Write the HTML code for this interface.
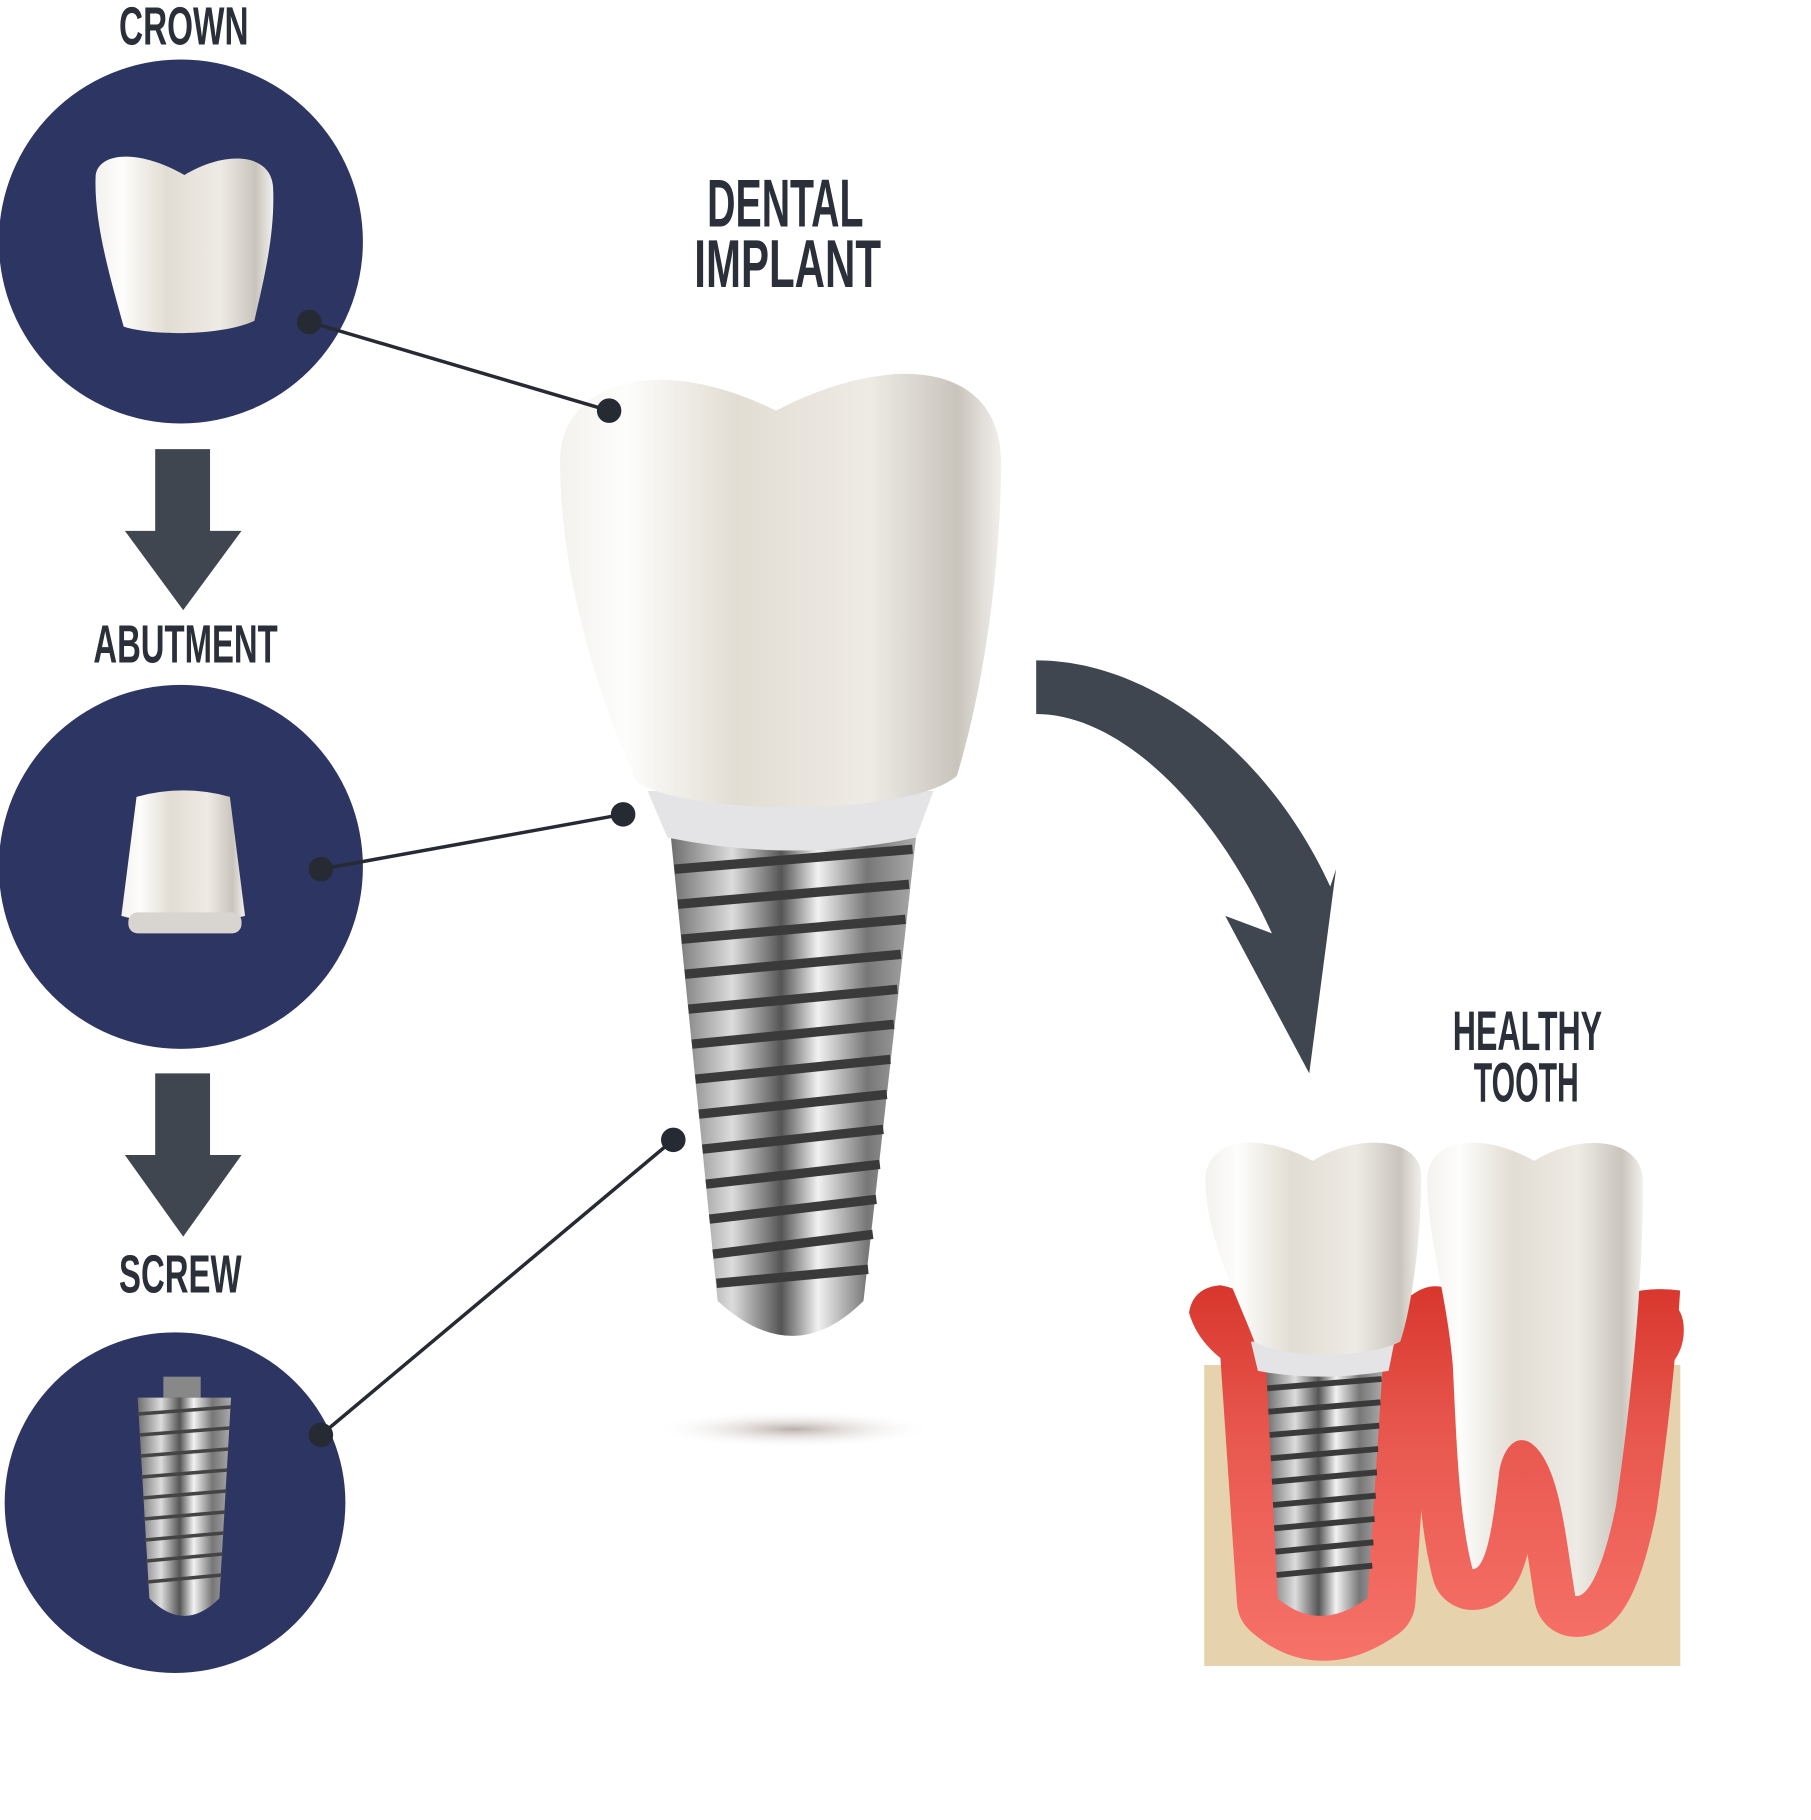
<!DOCTYPE html>
<html><head><meta charset="utf-8"><style>html,body{margin:0;padding:0;background:#fff}svg{display:block}</style></head>
<body>
<svg width="1811" height="1820" viewBox="0 0 1552 1560" preserveAspectRatio="none" xmlns="http://www.w3.org/2000/svg">
<defs>
<linearGradient id="tooth" x1="0" x2="1" y1="0" y2="0">
<stop offset="0" stop-color="#f4f2ee"/><stop offset="0.15" stop-color="#fdfdfc"/><stop offset="0.4" stop-color="#e2ddd3"/><stop offset="0.7" stop-color="#eeebe5"/><stop offset="0.9" stop-color="#c9c5bd"/><stop offset="1" stop-color="#f2f0ec"/>
</linearGradient>
<linearGradient id="metal" x1="0" x2="1" y1="0" y2="0">
<stop offset="0" stop-color="#6e6e6e"/><stop offset="0.25" stop-color="#dcdcdc"/><stop offset="0.45" stop-color="#555"/><stop offset="0.6" stop-color="#f2f2f2"/><stop offset="0.8" stop-color="#777"/><stop offset="1" stop-color="#aaa"/>
</linearGradient>
<linearGradient id="gum" gradientUnits="userSpaceOnUse" x1="0" x2="0" y1="1100" y2="1430">
<stop offset="0" stop-color="#d8362c"/><stop offset="0.4" stop-color="#e8584f"/><stop offset="1" stop-color="#f7736a"/>
</linearGradient>
<radialGradient id="sh"><stop offset="0" stop-color="#9c8c84" stop-opacity="0.7"/><stop offset="1" stop-color="#fff" stop-opacity="0"/></radialGradient>
<clipPath id="below"><path d="M1000 1100Q1040 1095 1070 1110L1210 1110Q1230 1095 1250 1110L1390 1110Q1420 1100 1460 1110V1440H1000Z"/></clipPath>
</defs>
<g font-family="'Liberation Sans Narrow','Liberation Sans',sans-serif" fill="#2a2f3a" font-weight="bold">
<text x="102" y="38" font-size="46" textLength="111" lengthAdjust="spacingAndGlyphs">CROWN</text>
<text x="80" y="568" font-size="46" textLength="158" lengthAdjust="spacingAndGlyphs">ABUTMENT</text>
<text x="102" y="1108" font-size="46" textLength="105" lengthAdjust="spacingAndGlyphs">SCREW</text>
<text x="606" y="194" font-size="58" textLength="134" lengthAdjust="spacingAndGlyphs">DENTAL</text>
<text x="595" y="246" font-size="58" textLength="160" lengthAdjust="spacingAndGlyphs">IMPLANT</text>
<text x="1245" y="900" font-size="48" textLength="128" lengthAdjust="spacingAndGlyphs">HEALTHY</text>
<text x="1263" y="944" font-size="48" textLength="90" lengthAdjust="spacingAndGlyphs">TOOTH</text>
</g>
<circle cx="155" cy="207" r="156" fill="#2d3562"/>
<circle cx="155" cy="743" r="156" fill="#2d3562"/>
<circle cx="150" cy="1288" r="146" fill="#2d3562"/>
<path d="M133 385H180V455H207L157 523L107 455H133Z" fill="#3f4650"/>
<path d="M133 920H180V990H207L157 1060L107 990H133Z" fill="#3f4650"/>
<path d="M82 150C85 130 120 128 158 150C195 128 232 132 234 160C236 200 226 240 218 275C190 288 130 288 106 280C95 240 80 190 82 150Z" fill="url(#tooth)"/>
<path d="M117 683Q157 672 197 683L210 785Q157 800 104 785Z" fill="url(#tooth)"/>
<rect x="110" y="782" width="97" height="18" rx="8" fill="#d8d5d0"/>
<rect x="140" y="1180" width="32" height="18" fill="#888"/>
<path d="M118 1198H198L188 1370Q158 1400 128 1370Z" fill="url(#metal)"/>
<g stroke="#444" stroke-width="3">
<line x1="118" y1="1212" x2="198" y2="1206"/><line x1="119" y1="1230" x2="197" y2="1224"/><line x1="120" y1="1248" x2="196" y2="1242"/><line x1="121" y1="1266" x2="195" y2="1260"/><line x1="122" y1="1284" x2="194" y2="1278"/><line x1="123" y1="1302" x2="193" y2="1296"/><line x1="124" y1="1320" x2="192" y2="1314"/><line x1="125" y1="1338" x2="191" y2="1332"/><line x1="126" y1="1356" x2="190" y2="1350"/>
</g>
<ellipse cx="680" cy="1225" rx="120" ry="16" fill="url(#sh)"/>
<path d="M575 718H785L740 1115Q680 1175 615 1115Z" fill="url(#metal)"/>
<g stroke="#3a3a3a" stroke-width="8">
<line x1="578" y1="745" x2="782" y2="728"/><line x1="581" y1="775" x2="779" y2="758"/><line x1="584" y1="805" x2="776" y2="788"/><line x1="587" y1="835" x2="772" y2="818"/><line x1="590" y1="865" x2="769" y2="848"/><line x1="593" y1="895" x2="766" y2="878"/><line x1="596" y1="925" x2="763" y2="908"/><line x1="599" y1="955" x2="760" y2="938"/><line x1="602" y1="985" x2="757" y2="968"/><line x1="605" y1="1015" x2="754" y2="998"/><line x1="608" y1="1045" x2="751" y2="1028"/><line x1="611" y1="1075" x2="748" y2="1058"/><line x1="614" y1="1100" x2="744" y2="1088"/>
</g>
<path d="M555 678H800L785 718Q680 740 572 718Z" fill="#e4e4e6"/>
<path d="M480 395C480 330 560 300 665 352C765 300 860 310 858 400C857 500 840 600 820 665C780 700 590 700 545 670C515 600 480 500 480 395Z" fill="url(#tooth)"/>
<g stroke="#252a33" stroke-width="3" fill="#252a33">
<line x1="265" y1="276" x2="522" y2="352"/><circle cx="265" cy="276" r="9"/><circle cx="522" cy="352" r="9"/>
<line x1="275" y1="745" x2="534" y2="698"/><circle cx="275" cy="745" r="9"/><circle cx="534" cy="698" r="9"/>
<line x1="275" y1="1230" x2="577" y2="977"/><circle cx="275" cy="1230" r="9"/><circle cx="577" cy="977" r="9"/>
</g>
<path d="M888 566C990 566 1090 650 1140 760L1145 745L1122 920L1050 785L1090 800C1040 690 960 612 888 612Z" fill="#3f4650"/>
<rect x="1032" y="1170" width="408" height="258" fill="#e6d2ad"/>
<g clip-path="url(#below)" fill="url(#gum)" stroke="url(#gum)" stroke-linejoin="round">
<path d="M1080 1150H1192L1178 1372Q1132 1405 1095 1372Z" stroke-width="70"/>
<path d="M1223 1010C1225 975 1270 970 1315 995C1355 970 1410 975 1408 1015C1408 1100 1398 1200 1385 1290C1375 1340 1362 1370 1350 1368C1342 1320 1338 1270 1320 1245C1305 1225 1290 1235 1285 1260C1280 1300 1275 1345 1262 1345C1250 1300 1248 1230 1245 1170C1240 1110 1223 1060 1223 1010Z" stroke-width="70"/>
<path d="M1020 1125Q1025 1095 1070 1105L1075 1180Q1030 1160 1020 1125Z" stroke-width="2"/>
<path d="M1442 1140Q1442 1105 1395 1115L1395 1190Q1442 1175 1442 1140Z" stroke-width="2"/>
</g>
<path d="M1085 1170H1185L1172 1370Q1130 1400 1095 1370Z" fill="url(#metal)"/>
<g stroke="#3a3a3a" stroke-width="5">
<line x1="1086" y1="1190" x2="1184" y2="1182"/><line x1="1087" y1="1210" x2="1183" y2="1202"/><line x1="1088" y1="1230" x2="1182" y2="1222"/><line x1="1089" y1="1250" x2="1181" y2="1242"/><line x1="1090" y1="1270" x2="1180" y2="1262"/><line x1="1091" y1="1290" x2="1179" y2="1282"/><line x1="1092" y1="1310" x2="1178" y2="1302"/><line x1="1093" y1="1330" x2="1177" y2="1322"/><line x1="1094" y1="1350" x2="1176" y2="1342"/>
</g>
<path d="M1072 1150H1195L1190 1175Q1130 1185 1078 1175Z" fill="#e4e4e6"/>
<path d="M1033 1010C1035 975 1080 970 1125 995C1165 970 1220 975 1218 1010C1218 1060 1210 1120 1200 1150C1170 1165 1100 1165 1075 1150C1060 1110 1033 1060 1033 1010Z" fill="url(#tooth)"/>
<path d="M1223 1010C1225 975 1270 970 1315 995C1355 970 1410 975 1408 1015C1408 1100 1398 1200 1385 1290C1375 1340 1362 1370 1350 1368C1342 1320 1338 1270 1320 1245C1305 1225 1290 1235 1285 1260C1280 1300 1275 1345 1262 1345C1250 1300 1248 1230 1245 1170C1240 1110 1223 1060 1223 1010Z" fill="url(#tooth)"/>
</svg>
</body></html>
